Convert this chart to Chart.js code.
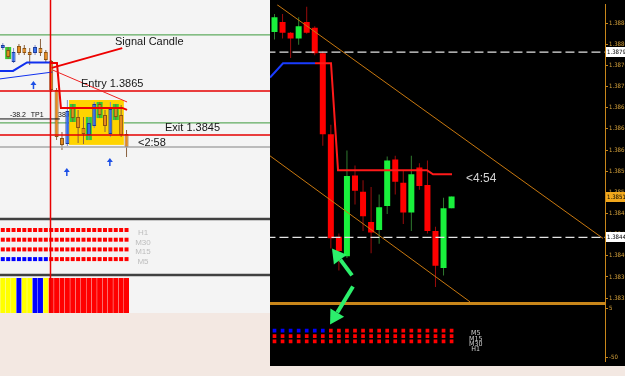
<!DOCTYPE html>
<html>
<head>
<meta charset="utf-8">
<title>Signal candle</title>
<script src="https://cdn.jsdelivr.net/npm/chart.js"></script>
<style>
  html, body { margin: 0; padding: 0; }
  body { width: 625px; height: 376px; position: relative; overflow: hidden; background: #f3e8e2; }
  canvas { position: absolute; top: 0; }
  #left { left: 0; background: #f4f4f4; }
  #right { left: 270px; background: #000; }
</style>
</head>
<body>
<canvas id="left" width="270" height="313"></canvas>
<canvas id="right" width="355" height="366"></canvas>
<script>
const FONT = 'Liberation Sans, Arial, sans-serif';
const NARROW = 'DejaVu Sans Condensed, Liberation Sans, sans-serif';

// ---------- left window ----------
const lOpen  = [1.38845, 1.38836, 1.38782, 1.38855, 1.38845, 1.38827, 1.38823, 1.38845, 1.38827, 1.38786, 1.38655, 1.38436, 1.38409, 1.38573, 1.38532, 1.38482, 1.3845, 1.38491, 1.38591, 1.38541, 1.38455, 1.38577, 1.38541, 1.38455];
const lHigh  = [1.38868, 1.3885, 1.38845, 1.38864, 1.38859, 1.38845, 1.38859, 1.38886, 1.38836, 1.38791, 1.38664, 1.38464, 1.38609, 1.38591, 1.38564, 1.38532, 1.38532, 1.386, 1.386, 1.38564, 1.386, 1.38591, 1.38586, 1.38473];
const lLow   = [1.38836, 1.38795, 1.38777, 1.38814, 1.38814, 1.38768, 1.38814, 1.38809, 1.38782, 1.38645, 1.38427, 1.38382, 1.384, 1.38509, 1.38414, 1.38409, 1.38427, 1.38482, 1.38527, 1.38464, 1.38441, 1.38518, 1.38441, 1.3835];
const lClose = [1.38859, 1.38805, 1.38827, 1.38823, 1.38823, 1.38814, 1.3885, 1.38823, 1.38791, 1.38655, 1.38441, 1.38405, 1.38559, 1.38527, 1.38482, 1.38455, 1.38505, 1.38591, 1.38541, 1.38491, 1.38568, 1.38532, 1.3845, 1.38396];
const lHighlight = [1, 13, 16, 18, 21];
const lSignal = 9;
const lGreenLevels = [1.38905, 1.38505];
const lRedLevels = [1.3865, 1.3845];
const lGreyLevels = [1.38396];
const lTpLevel = 1.38523;
const lTpEnd = 10.6;
const lMaRedX = [8.77, 10.07, 10.8, 22.2, 23.1];
const lMaRedY = [1.38777, 1.38777, 1.38573, 1.38573, 1.38564];
const lMaBlueX = [-0.52, 1.9, 4.5, 8.77];
const lMaBlueY = [1.38741, 1.38741, 1.3878, 1.3878];
const lMaThinX = [-0.52, 9.2];
const lMaThinY = [1.38705, 1.38736];
const lPointerX = [9.1, 22.2];
const lPointerY = [1.38755, 1.38845];
const lPointer2X = [9.3, 23.1];
const lPointer2Y = [1.38745, 1.386];
const lBoxX = [12.3, 22.5];
const lBoxY = [1.38405, 1.38609];
const lArrowX = [5.7, 11.9, 19.9];
const lArrowY = [1.38677, 1.38282, 1.38327];
const lH1  = [-1, -1, -1, -1, -1, -1, -1, -1, -1, -1, -1, -1, -1, -1, -1, -1, -1, -1, -1, -1, -1, -1, -1, -1];
const lM30 = [-1, -1, -1, -1, -1, -1, -1, -1, -1, -1, -1, -1, -1, -1, -1, -1, -1, -1, -1, -1, -1, -1, -1, -1];
const lM15 = [-1, -1, -1, -1, -1, -1, -1, -1, -1, -1, -1, -1, -1, -1, -1, -1, -1, -1, -1, -1, -1, -1, -1, -1];
const lM5  = [1, 1, 1, 1, 1, 1, 1, 1, 1, -1, -1, -1, -1, -1, -1, -1, -1, -1, -1, -1, -1, -1, -1, -1];
const lRowNames = ['H1', 'M30', 'M15', 'M5'];
const lRowY = [4, 3, 2, 1];
const lRowLabelY = [3.69, 2.66, 1.73, 0.7];
const lHist = ['y', 'y', 'y', 'b', 'y', 'y', 'b', 'b', 'y', 'r', 'r', 'r', 'r', 'r', 'r', 'r', 'r', 'r', 'r', 'r', 'r', 'r', 'r', 'r'];
const lNotes = [['Signal Candle', 20.86, 1.38873], ['Entry 1.3865', 14.54, 1.38682], ['Exit 1.3845', 30.15, 1.38482], ['<2:58', 25.13, 1.38414]];
const lTpNotes = [['-38.2', 1.34, 1.38541], ['TP1', 5.2, 1.38541], ['38.6', 10.26, 1.38541]];

// ---------- right window ----------
const rOpen  = [1.38828, 1.38847, 1.38827, 1.38816, 1.38847, 1.38836, 1.38788, 1.38635, 1.38441, 1.38404, 1.38557, 1.38526, 1.38469, 1.38454, 1.38499, 1.38587, 1.38543, 1.38487, 1.38572, 1.38539, 1.38452, 1.38382, 1.38495];
const rHigh  = [1.38862, 1.38862, 1.38828, 1.38856, 1.38876, 1.38839, 1.38792, 1.38653, 1.38447, 1.38604, 1.38576, 1.38548, 1.38535, 1.38521, 1.38593, 1.38594, 1.38567, 1.38594, 1.3858, 1.38585, 1.3846, 1.38515, 1.38517];
const rLow   = [1.38814, 1.38816, 1.38779, 1.38804, 1.38825, 1.38784, 1.38613, 1.38419, 1.38377, 1.38401, 1.38502, 1.38452, 1.3841, 1.38428, 1.38484, 1.38521, 1.38465, 1.38452, 1.3853, 1.38447, 1.38346, 1.38368, 1.38495];
const rClose = [1.38856, 1.38827, 1.38816, 1.38839, 1.38827, 1.38788, 1.38635, 1.38438, 1.38414, 1.38556, 1.38528, 1.3848, 1.38449, 1.38497, 1.38585, 1.38545, 1.38487, 1.38559, 1.38537, 1.38452, 1.38386, 1.38495, 1.38517];
const rTicks = [1.38325, 1.38365, 1.38405, 1.38445, 1.38485, 1.38525, 1.38565, 1.38605, 1.38645, 1.38685, 1.38725, 1.38765, 1.38805, 1.38845];
const rSubTicks = [5, -50];
const rLevels = [1.3879, 1.3844];
const rMarks = [1.3879, 1.38517, 1.3844];
const rMaBlueX = [-0.56, 1.06, 5.03];
const rMaBlueY = [1.38742, 1.38769, 1.38769];
const rMaRedX = [5.03, 7.02, 7.89, 18.94, 19.69, 22.05];
const rMaRedY = [1.38769, 1.38769, 1.38567, 1.38567, 1.38559, 1.38559];
const rTrendUpX = [0.31, 40.81];
const rTrendUpY = [1.3888, 1.38438];
const rTrendLowX = [-0.56, 24.29];
const rTrendLowY = [1.38594, 1.38318];
const rArrows = [[9.63, 1.38368, 7.14, 1.38419], [9.75, 1.38347, 6.9, 1.38275]];
const rM5  = [1, 1, 1, 1, 1, 1, 1, -1, -1, -1, -1, -1, -1, -1, -1, -1, -1, -1, -1, -1, -1, -1, -1];
const rM15 = [-1, -1, -1, -1, -1, -1, -1, -1, -1, -1, -1, -1, -1, -1, -1, -1, -1, -1, -1, -1, -1, -1, -1];
const rM30 = [-1, -1, -1, -1, -1, -1, -1, -1, -1, -1, -1, -1, -1, -1, -1, -1, -1, -1, -1, -1, -1, -1, -1];
const rRowY = [-19.75, -25.8, -31.85];
const rRowNames = ['M5', 'M15', 'M30', 'H1'];
const rRowLabelY = [-22.5, -29, -35, -41];
const rTimer = ['<4:54', 23.8, 1.3855];

// ---------- helpers ----------
const pts = (xs, ys) => xs.map((x, i) => ({ x, y: ys[i] }));
const hline = (v, x0, x1) => [{ x: x0, y: v }, { x: x1, y: v }];

function line(data, color, width, order, extra) {
  return Object.assign({
    type: 'line', data, borderColor: color, borderWidth: width,
    pointRadius: 0, tension: 0, fill: false, order
  }, extra || {});
}

function candles(o, h, l, c, st) {
  const up = c.map((v, i) => v >= o[i]);
  return [
    {
      type: 'bar', label: 'wicks', order: st.order + 1, grouped: false, inflateAmount: 0,
      data: o.map((_, i) => ({ x: i, y: [l[i], h[i]] })),
      backgroundColor: up.map(u => u ? st.wickUp : st.wickDown),
      barThickness: 1
    },
    {
      type: 'bar', label: 'bodies', order: st.order, grouped: false, inflateAmount: 0,
      data: o.map((_, i) => ({ x: i, y: [o[i], c[i]] })),
      backgroundColor: up.map(u => u ? st.up : st.down),
      borderColor: up.map(u => u ? st.upEdge : st.downEdge),
      borderWidth: st.edge, borderSkipped: false,
      barThickness: st.width
    }
  ];
}

function putText(ctx, s, px, py, font, color, align) {
  ctx.font = font;
  ctx.fillStyle = color;
  ctx.textAlign = align || 'left';
  ctx.textBaseline = 'middle';
  ctx.fillText(s, px, py);
}

function fatArrow(ctx, x0, y0, x1, y1) {
  const len = Math.hypot(x1 - x0, y1 - y0);
  const ux = (x1 - x0) / len, uy = (y1 - y0) / len;
  const head = 14, half = 8;
  const bx = x1 - ux * head, by = y1 - uy * head;
  ctx.strokeStyle = ctx.fillStyle = '#2cef6c';
  ctx.lineWidth = 4;
  ctx.beginPath(); ctx.moveTo(x0, y0); ctx.lineTo(bx, by); ctx.stroke();
  ctx.beginPath();
  ctx.moveTo(x1, y1);
  ctx.lineTo(bx - uy * half, by + ux * half);
  ctx.lineTo(bx + uy * half, by - ux * half);
  ctx.closePath(); ctx.fill();
}

function upArrow(ctx, px, py) {
  ctx.strokeStyle = ctx.fillStyle = '#1c4fe6';
  ctx.lineWidth = 1.5;
  ctx.beginPath(); ctx.moveTo(px, py - 1); ctx.lineTo(px, py + 4); ctx.stroke();
  ctx.beginPath(); ctx.moveTo(px, py - 4); ctx.lineTo(px - 3, py); ctx.lineTo(px + 3, py); ctx.closePath(); ctx.fill();
}

const BLUE = '#0000ff', RED = '#ff0000';
const histColor = { y: '#ffff00', b: '#0000ff', r: '#ff0000' };

// ---------- left chart ----------
const lDots = [lH1, lM30, lM15, lM5].flatMap((row, r) => row.map((s, i) => ({ x: i, y: lRowY[r], s })));

const leftDecor = {
  id: 'leftDecor',
  beforeDatasetDraw(chart, args) {
    if (chart.data.datasets[args.index].label !== 'highlight') return;
    const { ctx, scales: { x, y } } = chart;
    ctx.save();
    lTpNotes.forEach(([s, nx, ny]) => putText(ctx, s, x.getPixelForValue(nx), y.getPixelForValue(ny), '7px ' + FONT, '#111'));
    const x0 = x.getPixelForValue(lBoxX[0]), x1 = x.getPixelForValue(lBoxX[1]);
    const y0 = y.getPixelForValue(lBoxY[1]), y1 = y.getPixelForValue(lBoxY[0]);
    ctx.fillStyle = '#ffd400';
    ctx.fillRect(x0, y0, x1 - x0, y1 - y0);
    ctx.restore();
  },
  afterDatasetsDraw(chart) {
    const { ctx, chartArea: a, scales: { x, y, yd, yh } } = chart;
    ctx.save();
    ctx.strokeStyle = '#404040';
    ctx.lineWidth = 2.5;
    [yd.top, yh.top].forEach(t => {
      ctx.beginPath(); ctx.moveTo(a.left, t); ctx.lineTo(a.right, t); ctx.stroke();
    });
    const sx = Math.round(x.getPixelForValue(lSignal)) - 0.5;
    ctx.strokeStyle = '#e80000';
    ctx.lineWidth = 1.5;
    ctx.beginPath(); ctx.moveTo(sx, a.top); ctx.lineTo(sx, a.bottom); ctx.stroke();
    lArrowX.forEach((ax, i) => upArrow(ctx, x.getPixelForValue(ax), y.getPixelForValue(lArrowY[i])));
    lNotes.forEach(([s, nx, ny]) => putText(ctx, s, x.getPixelForValue(nx), y.getPixelForValue(ny), '11px ' + FONT, '#161616'));
    lRowNames.forEach((s, i) => putText(ctx, s, x.getPixelForValue(26.06), yd.getPixelForValue(lRowLabelY[i]), '8px ' + FONT, '#bdbdbd', 'center'));
    ctx.restore();
  }
};

new Chart(document.getElementById('left'), {
  type: 'bar',
  data: {
    datasets: [
      { type: 'scatter', yAxisID: 'yd', order: 0, data: lDots, pointStyle: 'rect', pointRadius: 2.83, pointBorderWidth: 0,
        pointBackgroundColor: lDots.map(d => d.s > 0 ? BLUE : RED) },
      { type: 'bar', yAxisID: 'yh', order: 0, grouped: false, inflateAmount: 0, barThickness: 5,
        data: lHist.map((_, i) => ({ x: i, y: 1 })), backgroundColor: lHist.map(k => histColor[k]) },
      line(pts(lPointerX, lPointerY), '#ee0000', 2, 1),
      line(pts(lPointer2X, lPointer2Y), '#ee2020', 1, 1),
      line(pts(lMaRedX, lMaRedY), '#ee0000', 2, 2),
      line(pts(lMaBlueX, lMaBlueY), '#1030ee', 2, 2),
      line(pts(lMaThinX, lMaThinY), '#1030ee', 1, 2),
      ...lRedLevels.map(v => line(hline(v, -1, 60), '#e60000', 1.5, 3)),
      ...lGreyLevels.map(v => line(hline(v, -1, 60), '#a8a8a8', 1.5, 3)),
      line(hline(lTpLevel, -1, lTpEnd), '#111111', 1, 3),
      ...candles(lOpen, lHigh, lLow, lClose, {
        order: 5, up: '#2f6df0', down: '#e88a1c', upEdge: '#1a3a9a', downEdge: '#8a5212',
        wickUp: '#7c88c8', wickDown: '#8a6240', edge: 1, width: 4
      }),
      { type: 'bar', label: 'highlight', order: 8, grouped: false, inflateAmount: 0, barThickness: 6,
        data: lHighlight.map(i => ({ x: i, y: [lLow[i], lHigh[i]] })), backgroundColor: '#33cc33' },
      ...lGreenLevels.map(v => line(hline(v, -1, 60), '#3b9a3b', 1, 9))
    ]
  },
  options: {
    responsive: false, animation: false, devicePixelRatio: 1,
    layout: { padding: 0, autoPadding: false },
    plugins: { legend: { display: false }, tooltip: { enabled: false } },
    scales: {
      x: { type: 'linear', display: false, offset: false, min: -0.52, max: 49.67 },
      y: { type: 'linear', display: false, position: 'right', stack: 'l', stackWeight: 219, weight: 1, min: 1.380682, max: 1.390636 },
      yd: { type: 'linear', display: false, position: 'right', stack: 'l', stackWeight: 56, weight: 2, min: -0.639, max: 5.134 },
      yh: { type: 'linear', display: false, position: 'right', stack: 'l', stackWeight: 38, weight: 3, min: 0, max: 1.086 }
    }
  },
  plugins: [leftDecor]
});

// ---------- right chart ----------
const AXIS = '#c8861a', TICK = '#d6a23c';
const rDots = [rM5, rM15, rM30].flatMap((row, r) => row.map((s, i) => ({ x: i, y: rRowY[r], s })));

const rightDecor = {
  id: 'rightDecor',
  afterDatasetsDraw(chart) {
    const { ctx, chartArea: a, scales: { x, y, y2 } } = chart;
    ctx.save();
    ctx.strokeStyle = AXIS;
    ctx.lineWidth = 3;
    ctx.beginPath(); ctx.moveTo(a.left, y.bottom + 0.5); ctx.lineTo(a.right, y.bottom + 0.5); ctx.stroke();
    rArrows.forEach(([x0, p0, x1, p1]) => fatArrow(ctx, x.getPixelForValue(x0), y.getPixelForValue(p0), x.getPixelForValue(x1), y.getPixelForValue(p1)));
    putText(ctx, rTimer[0], x.getPixelForValue(rTimer[1]), y.getPixelForValue(rTimer[2]), '12px ' + FONT, '#d4d4d4');
    rRowNames.forEach((s, i) => putText(ctx, s, x.getPixelForValue(25), y2.getPixelForValue(rRowLabelY[i]), '7px ' + NARROW, '#cfcfcf', 'center'));
    ctx.restore();
  },
  afterDraw(chart) {
    const { ctx, scales: { y } } = chart;
    ctx.save();
    rMarks.forEach((v, i) => {
      const py = Math.round(y.getPixelForValue(v));
      ctx.fillStyle = i === 1 ? '#f2a81c' : '#ffffff';
      ctx.fillRect(y.left + 1, py - 5, 22, 10);
      putText(ctx, String(v), y.left + 2, py, '6px ' + NARROW, '#000');
    });
    ctx.restore();
  }
};

const subAxis = (weight, stackWeight, min, max, ticks, fmt) => ({
  type: 'linear', position: 'right', stack: 'r', weight, stackWeight, min, max,
  afterFit: s => { s.width = 20; },
  afterBuildTicks: s => { s.ticks = ticks.map(v => ({ value: v })); },
  grid: { drawOnChartArea: false, color: AXIS, tickLength: 3 },
  border: { color: AXIS, width: 1 },
  ticks: { color: TICK, font: { size: 6, family: NARROW }, padding: 1, autoSkip: false, callback: fmt }
});

new Chart(document.getElementById('right'), {
  type: 'bar',
  data: {
    datasets: [
      { type: 'scatter', yAxisID: 'y2', order: 0, data: rDots, pointStyle: 'rect', pointRadius: 2.6, pointBorderWidth: 0,
        pointBackgroundColor: rDots.map(d => d.s > 0 ? BLUE : RED) },
      line(pts(rMaRedX, rMaRedY), '#ff1a1a', 2, 1),
      line(pts(rMaBlueX, rMaBlueY), '#1a3cff', 2, 1),
      ...rLevels.map(v => line(hline(v, -1, 42), '#e4e4e4', 1.2, 2, { borderDash: [9, 4] })),
      line(pts(rTrendUpX, rTrendUpY), '#c8780f', 1, 3),
      line(pts(rTrendLowX, rTrendLowY), '#c8780f', 1, 3),
      ...candles(rOpen, rHigh, rLow, rClose, {
        order: 4, up: '#19f03c', down: '#ff0000', upEdge: '#19f03c', downEdge: '#ff0000',
        wickUp: '#2f7a2f', wickDown: '#9a0c0c', edge: 0, width: 6
      })
    ]
  },
  options: {
    responsive: false, animation: false, devicePixelRatio: 1,
    layout: { padding: 0, autoPadding: false },
    plugins: { legend: { display: false }, tooltip: { enabled: false } },
    scales: {
      x: { type: 'linear', display: false, offset: false, min: -0.56, max: 41.06 },
      y: subAxis(1, 306, 1.3831595, 1.3888, rTicks, v => v.toFixed(5)),
      y2: subAxis(2, 60, -54.4, 11.6, rSubTicks, v => String(v))
    }
  },
  plugins: [rightDecor]
});
</script>
</body>
</html>
